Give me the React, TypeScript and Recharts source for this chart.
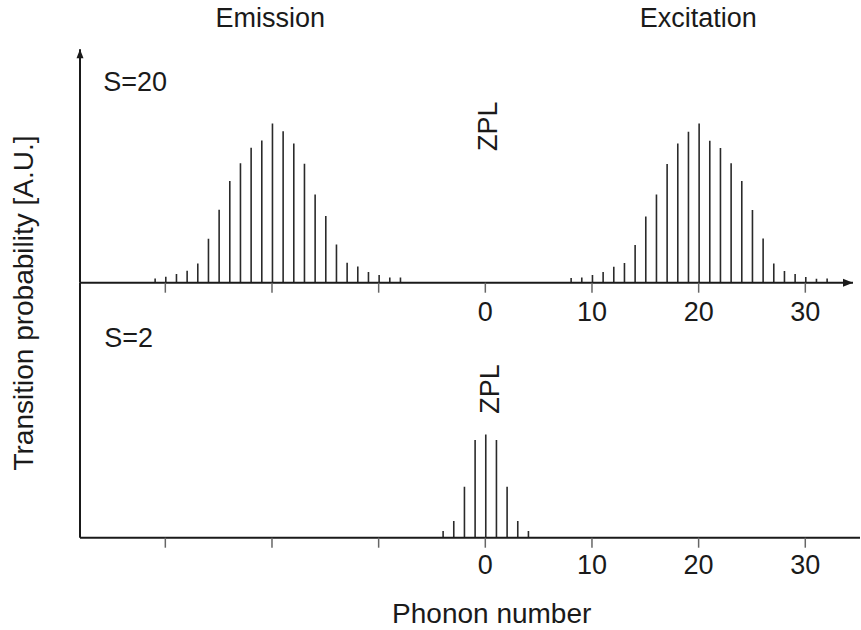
import { Bar, BarChart, ReferenceDot, XAxis, YAxis } from "recharts";

// phonon numbers and transition probabilities (A.U., peak = 100)
const emissionPhonons = [
  -31, -30, -29, -28, -27, -26, -25, -24, -23, -22, -21, -20, -19, -18, -17,
  -16, -15, -14, -13, -12, -11, -10, -9, -8,
];
const emissionValues = [
  2.7, 3.8, 5.5, 7.5, 12.1, 27.6, 45.8, 63.8, 74.9, 84.7, 89.3, 100, 95, 87.4,
  74.7, 55.4, 41.9, 23.9, 12.6, 10.2, 6.7, 4.8, 3.3, 3.3,
];

const excitationPhonons = [
  8, 9, 10, 11, 12, 13, 14, 15, 16, 17, 18, 19, 20, 21, 22, 23, 24, 25, 26, 27,
  28, 29, 30, 31, 32,
];
const excitationValues = [
  3.0, 3.3, 4.8, 6.7, 10.0, 12.4, 23.7, 41.6, 55.4, 74.5, 87.4, 94.8, 100,
  89.1, 84.6, 74.9, 63.8, 45.6, 27.8, 12.1, 7.3, 5.5, 3.6, 2.5, 2.7,
];

const smallSPhonons = [-4, -3, -2, -1, 0, 1, 2, 3, 4];
const smallSValues = [4.2, 10.5, 32, 61.3, 64.8, 61.3, 32, 10.5, 4.2];

const xTicks = [-30, -20, -10, 0, 10, 20, 30];

const topData = [
  ...emissionPhonons.map((n, i) => ({ n, p: emissionValues[i] })),
  ...excitationPhonons.map((n, i) => ({ n, p: excitationValues[i] })),
];
const bottomData = smallSPhonons.map((n, i) => ({ n, p: smallSValues[i] }));

const FONT = "'Liberation Sans', Arial, Helvetica, sans-serif";
const INK = "#1a1a1a";

const makeTick = (dy: number) => (props: any) => {
  const { x, y, payload } = props;
  if (payload.value < 0) return <g />;
  return (
    <text
      x={x}
      y={y + dy}
      textAnchor="middle"
      fontSize={27}
      fontFamily={FONT}
      fill={INK}
    >
      {payload.value}
    </text>
  );
};

const arrowUp = (props: any) => {
  const { cx, cy } = props;
  return (
    <path
      d={`M ${cx} ${cy} L ${cx - 3.5} ${cy + 9} L ${cx + 3.5} ${cy + 9} Z`}
      fill={INK}
    />
  );
};

const arrowRight = (props: any) => {
  const { cx, cy } = props;
  return (
    <path
      d={`M ${cx} ${cy} L ${cx - 10} ${cy - 4} L ${cx - 10} ${cy + 4} Z`}
      fill={INK}
    />
  );
};

const Panel = (props: {
  data: { n: number; p: number }[];
  height: number;
  margin: { top: number; right: number; bottom: number; left: number };
  xMax: number;
  yMax: number;
  tickDy: number;
  arrows: boolean;
}) => {
  const { data, height, margin, xMax, yMax, tickDy, arrows } = props;
  return (
    <BarChart width={861} height={height} data={data} margin={margin}>
      <XAxis
        dataKey="n"
        type="number"
        domain={[-38, xMax]}
        ticks={xTicks}
        interval={0}
        height={40}
        tickSize={10}
        tickLine={{ stroke: "#666", strokeWidth: 1.5 }}
        axisLine={{ stroke: INK, strokeWidth: 2 }}
        tick={makeTick(tickDy)}
        allowDataOverflow
      />
      <YAxis
        type="number"
        domain={[0, yMax]}
        width={10}
        tick={false}
        tickLine={false}
        axisLine={{ stroke: INK, strokeWidth: 2 }}
        allowDataOverflow
      />
      <Bar
        dataKey="p"
        fill="#2a2a2a"
        barSize={1.6}
        isAnimationActive={false}
      />
      {arrows && (
        <ReferenceDot x={-38} y={yMax} r={0} shape={arrowUp} />
      )}
      {arrows && <ReferenceDot x={xMax} y={0} r={0} shape={arrowRight} />}
    </BarChart>
  );
};

export default function App() {
  const textStyle = { fontFamily: FONT, fill: INK };
  return (
    <div
      style={{
        position: "absolute",
        left: 0,
        top: 0,
        width: 861,
        height: 630,
        background: "#fff",
      }}
    >
      <div style={{ position: "absolute", left: 0, top: 0 }}>
        <Panel
          data={topData}
          height={340}
          margin={{ top: 49.3, right: 8, bottom: 17.3, left: 70 }}
          xMax={34.47}
          yMax={146.5}
          tickDy={26}
          arrows
        />
      </div>
      <div style={{ position: "absolute", left: 0, top: 0 }}>
        <Panel
          data={bottomData}
          height={630}
          margin={{ top: 283, right: 1, bottom: 52.3, left: 70 }}
          xMax={35.13}
          yMax={160}
          tickDy={24}
          arrows={false}
        />
      </div>
      <svg
        width={861}
        height={630}
        style={{ position: "absolute", left: 0, top: 0, pointerEvents: "none" }}
      >
        <text x={270.3} y={26.7} textAnchor="middle" fontSize={27} {...textStyle}>
          Emission
        </text>
        <text x={698.3} y={26.7} textAnchor="middle" fontSize={27} {...textStyle}>
          Excitation
        </text>
        <text x={103.3} y={90.7} fontSize={27} {...textStyle}>
          S=20
        </text>
        <text x={104.3} y={346.7} fontSize={27} {...textStyle}>
          S=2
        </text>
        <text
          transform="translate(496.7,126.2) rotate(-90)"
          textAnchor="middle"
          fontSize={27}
          {...textStyle}
        >
          ZPL
        </text>
        <text
          transform="translate(499,389) rotate(-90)"
          textAnchor="middle"
          fontSize={27}
          {...textStyle}
        >
          ZPL
        </text>
        <text
          transform="translate(33,303) rotate(-90)"
          textAnchor="middle"
          fontSize={28}
          {...textStyle}
        >
          Transition probability [A.U.]
        </text>
        <text x={491.7} y={623} textAnchor="middle" fontSize={28} {...textStyle}>
          Phonon number
        </text>
      </svg>
    </div>
  );
}
